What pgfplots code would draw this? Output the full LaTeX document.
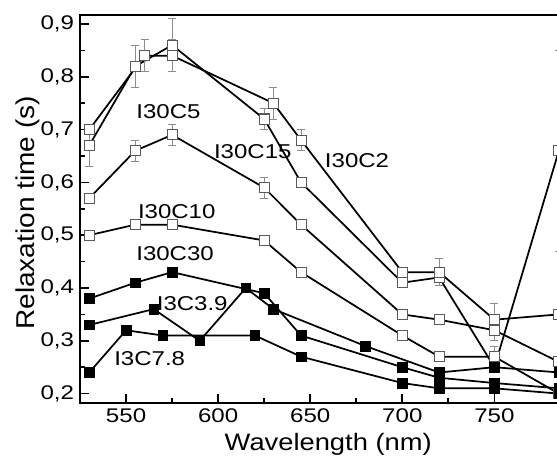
\documentclass[border=0pt]{standalone}
\usepackage{fontspec}
\setmainfont{Liberation Sans}
\usepackage{graphicx}
\usepackage{pgfplots}
\pgfplotsset{compat=1.18}
\usepackage{pgfplotstable}
\newcommand{\sx}[1]{\scalebox{1.22}[1]{#1}}
\newcommand{\sa}[1]{\scalebox{1.2}[1]{#1}}

\pgfplotstableread{
x y e
530 0.67 0.04
555 0.82 0.04
575 0.86 0.05
625 0.72 0.02
645 0.60 0
700 0.41 0
720 0.42 0
750 0.25 0
785 0.66 0.19
}\dataA
\pgfplotstableread{
x y e
530 0.70 0.01
560 0.84 0.03
575 0.84 0.03
630 0.75 0.03
645 0.68 0.02
700 0.43 0
720 0.43 0.025
750 0.34 0.03
785 0.35 0
}\dataB
\pgfplotstableread{
x y e
530 0.57 0
555 0.66 0.02
575 0.69 0.02
625 0.59 0.02
645 0.52 0
700 0.35 0
720 0.34 0
750 0.32 0.02
785 0.26 0
}\dataC
\pgfplotstableread{
x y e
530 0.50 0
555 0.52 0
575 0.52 0
625 0.49 0
645 0.43 0
700 0.31 0
720 0.27 0
750 0.27 0.02
785 0.20 0
}\dataD
\pgfplotstableread{
x y
530 0.38
555 0.41
575 0.43
625 0.39
645 0.31
700 0.25
720 0.23
750 0.22
785 0.21
}\dataE
\pgfplotstableread{
x y
530 0.33
565 0.36
590 0.30
615 0.40
630 0.36
680 0.29
720 0.24
750 0.25
785 0.24
}\dataF
\pgfplotstableread{
x y
530 0.24
550 0.32
570 0.31
620 0.31
645 0.27
700 0.22
720 0.21
750 0.21
785 0.20
}\dataG

\begin{document}
\begin{tikzpicture}
\begin{axis}[
  scale only axis, width=379.5pt, height=290.85pt,
  xmin=525, xmax=800, ymin=0.182, ymax=0.917,
  xtick={550,600,650,700,750}, minor x tick num=1,
  ytick={0.2,0.3,0.4,0.5,0.6,0.7,0.8,0.9}, minor y tick num=1,
  tick pos=left, tick align=inside,
  major tick length=6.75pt, minor tick length=3.75pt,
  every tick/.style={line width=1.3pt, black},
  axis line style={line width=2pt},
  /pgf/number format/assume math mode=true,
  tick label style={font=\fontsize{14.8}{18}\selectfont},
  xticklabel={\sx{\pgfmathprintnumber[assume math mode=true,fixed,precision=0]{\tick}}},
  yticklabel={\sx{\pgfmathprintnumber[assume math mode=true,fixed,fixed zerofill,precision=1,use comma]{\tick}}},
  xticklabel style={yshift=-1pt},
  yticklabel style={xshift=-1pt},
  xlabel={\scalebox{1.15}[1]{Wavelength (nm)}},
  ylabel={\scalebox{1}[0.92]{Relaxation time (s)}},
  every axis x label/.style={at={(axis description cs:0.490,-0.1212)},anchor=base,font=\fontsize{17.8}{20}\selectfont},
  every axis y label/.style={at={(axis description cs:-0.1035,0.49)},rotate=90,anchor=center,font=\fontsize{21}{24}\selectfont},
  openser/.style={black, line width=1.3pt, mark=square*, mark size=3.75pt,
    mark options={draw=black!65, fill=white, line width=0.8pt},
    error bars/.cd, y dir=both, y explicit,
    error bar style={black!45, line width=0.7pt},
    error mark options={rotate=90, black!45, mark size=3pt, line width=0.7pt}},
  fillser/.style={black, line width=1.3pt, mark=square*, mark size=3.6pt,
    mark options={draw=black, fill=black, line width=0.5pt}},
]
\addplot[openser] table[x=x,y=y,y error=e]{\dataA};
\addplot[openser] table[x=x,y=y,y error=e]{\dataB};
\addplot[openser] table[x=x,y=y,y error=e]{\dataC};
\addplot[openser] table[x=x,y=y,y error=e]{\dataD};
\addplot[fillser] table[x=x,y=y]{\dataE};
\addplot[fillser] table[x=x,y=y]{\dataF};
\addplot[fillser] table[x=x,y=y]{\dataG};

\begin{scope}[every node/.style={font=\fontsize{15}{18}\selectfont, inner sep=0pt}]
\node at (axis cs:573,0.734) {\sa{I30C5}};
\node at (axis cs:618.8,0.658) {\sa{I30C15}};
\node at (axis cs:675.4,0.642) {\sa{I30C2}};
\node at (axis cs:577.5,0.544) {\sa{I30C10}};
\node at (axis cs:576.6,0.465) {\sa{I30C30}};
\node at (axis cs:585.9,0.371) {\sa{I3C3.9}};
\node at (axis cs:562.8,0.266) {\sa{I3C7.8}};
\end{scope}

\coordinate (BL) at (rel axis cs:0,0);
\coordinate (TR) at (axis cs:784,0.917);
\end{axis}
\pgfresetboundingbox
\path[use as bounding box] ([xshift=-60pt,yshift=-42pt]BL) rectangle ([yshift=11.25pt]TR);
\end{tikzpicture}
\end{document}
